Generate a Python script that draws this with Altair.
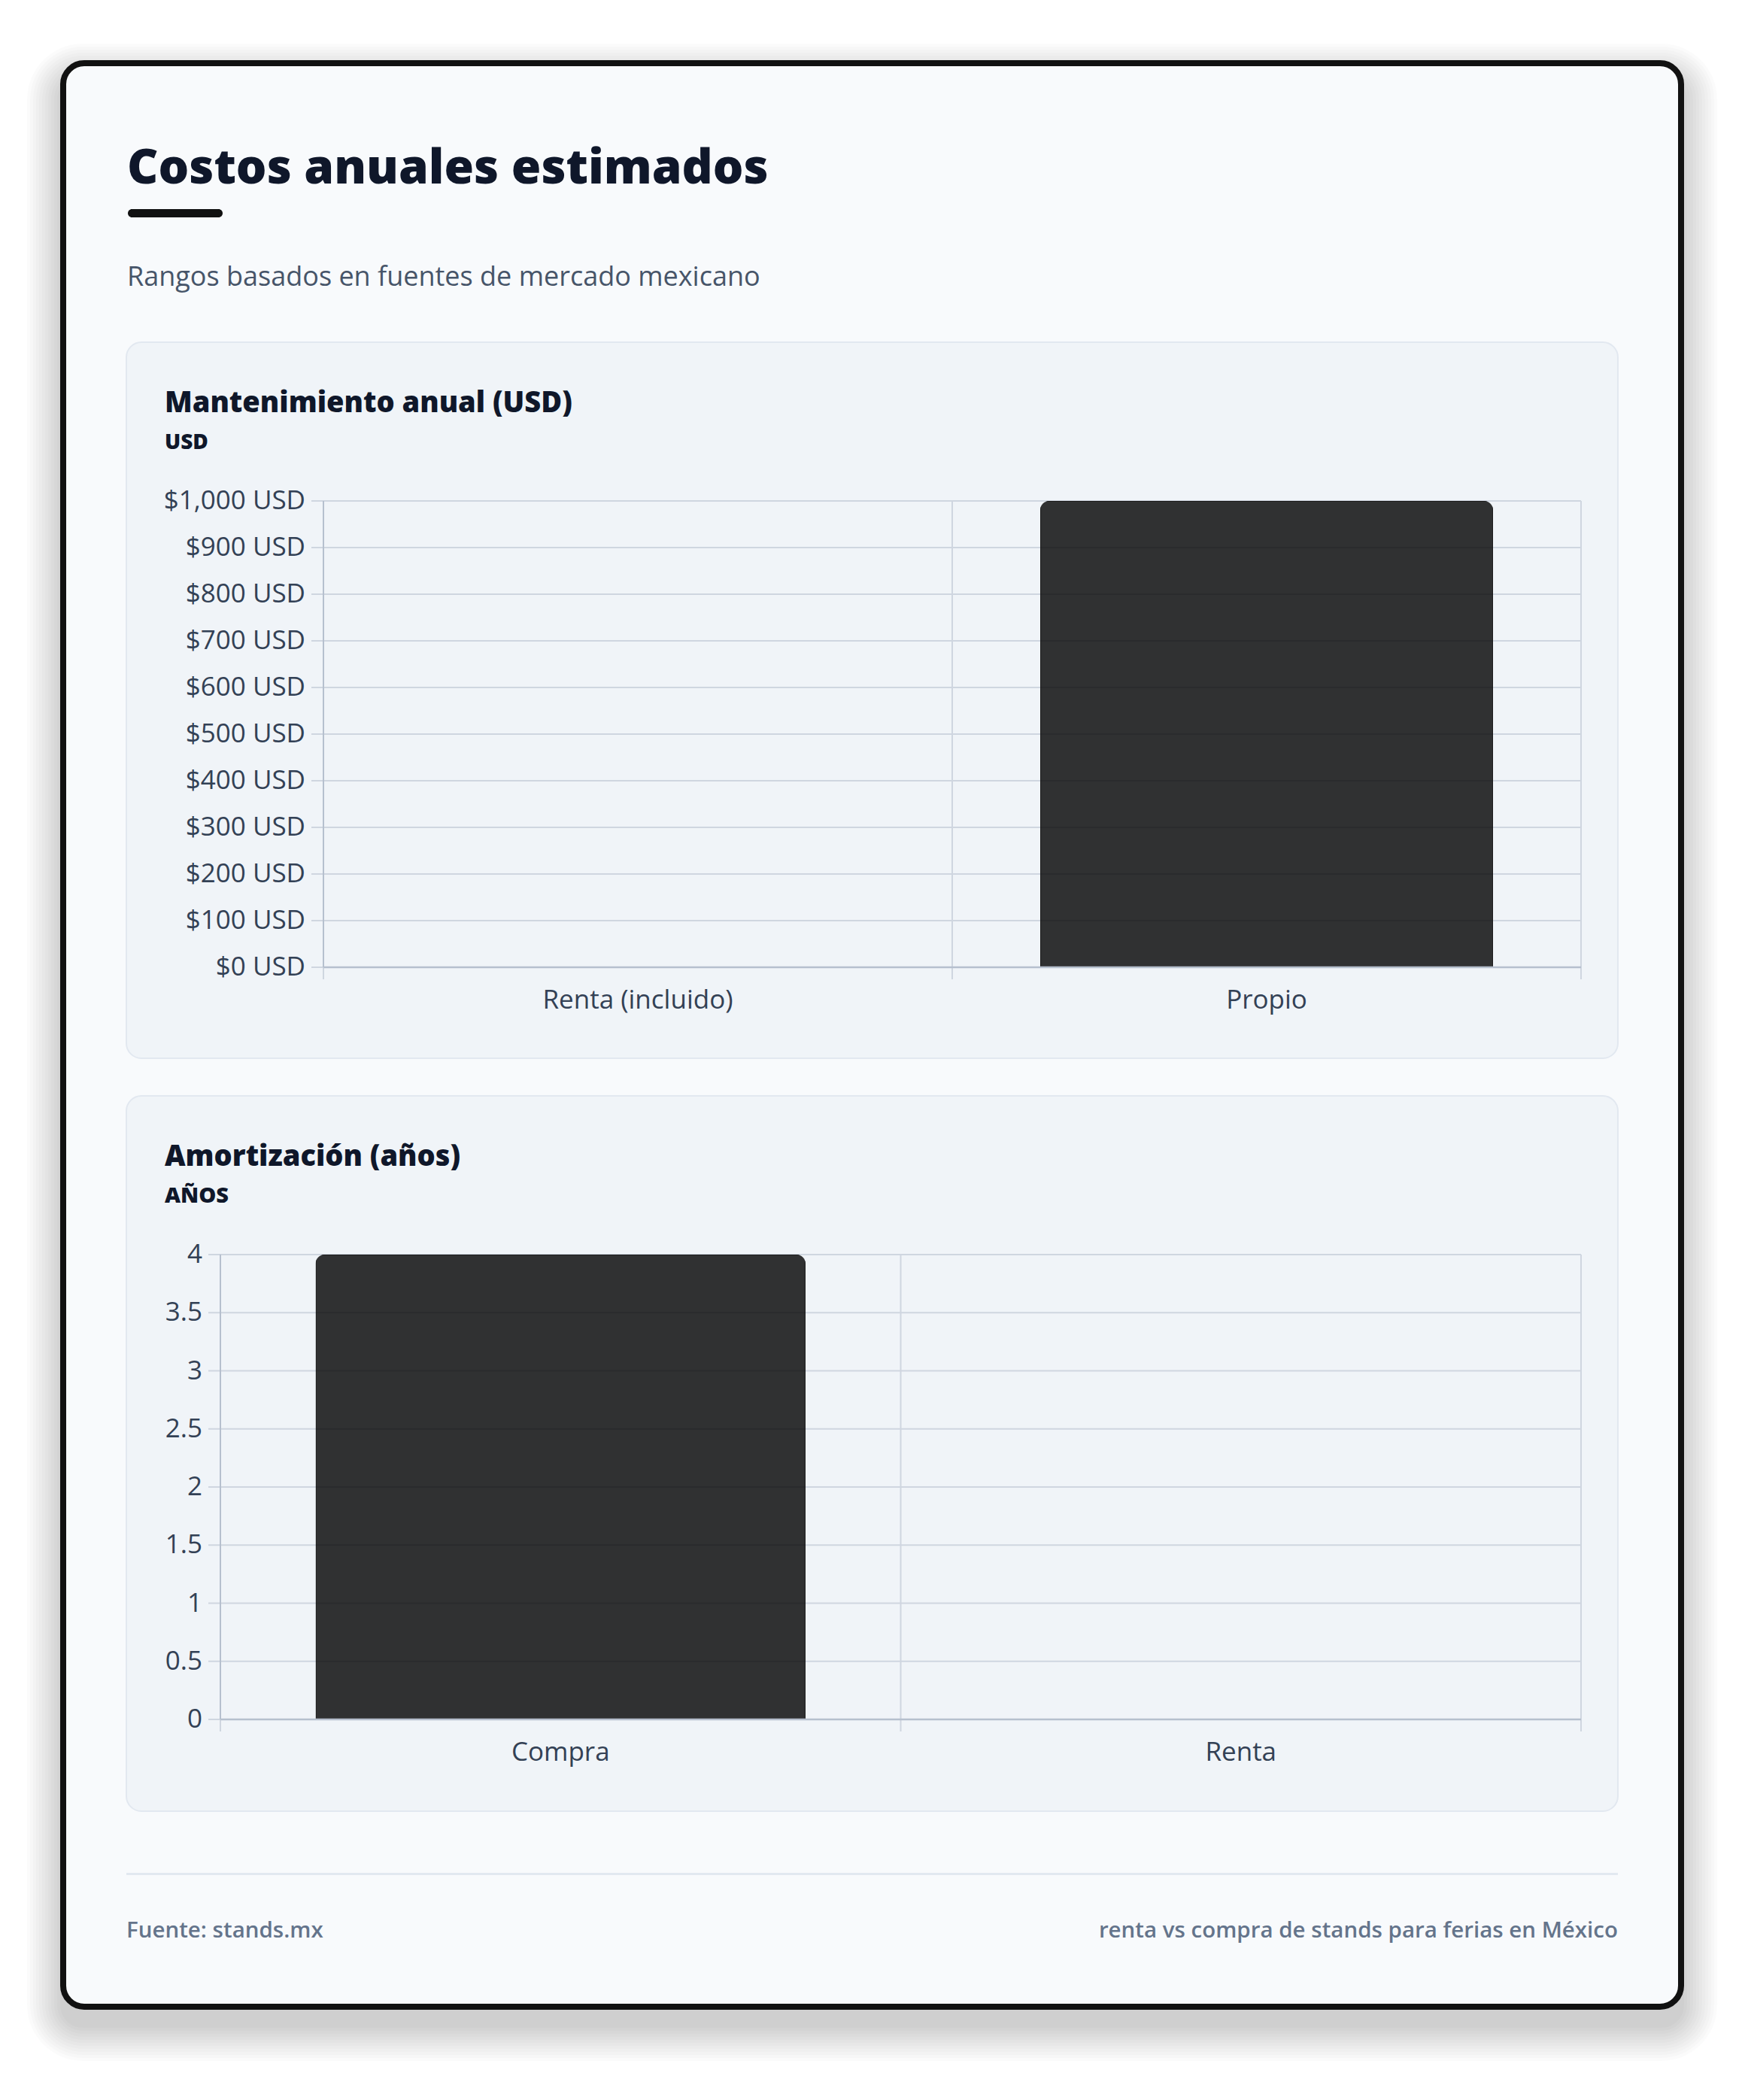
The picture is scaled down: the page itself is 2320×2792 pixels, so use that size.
import altair as alt
import pandas as pd

# ---------------- data ----------------
maint_categories = ["Renta (incluido)", "Propio"]
maint_values = [0, 1000]
maint_ticks = [0, 100, 200, 300, 400, 500, 600, 700, 800, 900, 1000]
maint_tick_labels = ["$0 USD", "$100 USD", "$200 USD", "$300 USD", "$400 USD", "$500 USD",
                     "$600 USD", "$700 USD", "$800 USD", "$900 USD", "$1,000 USD"]

amort_categories = ["Compra", "Renta"]
amort_values = [4, 0]
amort_ticks = [0, 0.5, 1, 1.5, 2, 2.5, 3, 3.5, 4]
amort_tick_labels = ["0", "0.5", "1", "1.5", "2", "2.5", "3", "3.5", "4"]

TITLE = "Costos anuales estimados"
SUBTITLE = "Rangos basados en fuentes de mercado mexicano"
P1_TITLE = "Mantenimiento anual (USD)"
P1_UNIT = "USD"
P2_TITLE = "Amortización (años)"
P2_UNIT = "AÑOS"
FOOT_L = "Fuente: stands.mx"
FOOT_R = "renta vs compra de stands para ferias en México"

# ---------------- style ----------------
W, H = 2300, 2750
FONT = "Open Sans"
DARK = "#0f172a"
GRID = "#cfd6e0"
AXIS = "#b6c0ce"
LABEL = "#334155"
PANEL_FILL = "#f0f4f8"
PANEL_STROKE = "#e2e8f0"
TICK = 16

dummy = pd.DataFrame({"d": [0]})


def box(x, x2, y, y2, **kw):
    return alt.Chart(dummy).mark_rect(**kw).encode(
        x=alt.value(x), x2=alt.value(x2), y=alt.value(y), y2=alt.value(y2)
    )


def label(x, y, text, **kw):
    return alt.Chart(dummy).mark_text(text=text, baseline="alphabetic", **kw).encode(
        x=alt.value(x), y=alt.value(y)
    )


# ---------------- decorations ----------------
decor = []
for i in range(12):
    s = 4 * i
    decor.append(
        box(72 - s, 2231 + s, 94 - s, 2688 + s, color="#000000", opacity=0.014,
            cornerRadius=30 + s)
    )
decor.append(box(76, 2227, 76, 2660, fill="#f8fafc", stroke="#111111",
                 strokeWidth=8, cornerRadius=28))
decor.append(box(162, 288, 270, 281, color="#111111", cornerRadius=5.5))
decor.append(box(160, 2143, 447, 1399, fill=PANEL_FILL, stroke=PANEL_STROKE,
                 strokeWidth=2, cornerRadius=20))
decor.append(box(160, 2143, 1449, 2400, fill=PANEL_FILL, stroke=PANEL_STROKE,
                 strokeWidth=2, cornerRadius=20))
decor.append(box(160, 2143, 2482, 2485, color="#e2e8f0"))

texts = [
    label(161, 236, TITLE, font=FONT, fontSize=64, fontWeight=800, color=DARK, align="left"),
    label(161, 372, SUBTITLE, font=FONT, fontSize=36, color="#475569", align="left"),
    label(211, 540, P1_TITLE, font=FONT, fontSize=38, fontWeight=800, color=DARK, align="left"),
    label(211, 589, P1_UNIT, font=FONT, fontSize=28, fontWeight=800, color=DARK, align="left"),
    label(211, 1542, P2_TITLE, font=FONT, fontSize=38, fontWeight=800, color=DARK, align="left"),
    label(211, 1591, P2_UNIT, font=FONT, fontSize=29, fontWeight=800, color=DARK, align="left"),
    label(160, 2568, FOOT_L, font=FONT, fontSize=29.5, fontWeight=600, color="#64748b", align="left"),
    label(2143, 2568, FOOT_R, font=FONT, fontSize=29.5, fontWeight=600, color="#64748b", align="right"),
]


# ---------------- bar panels (axes drawn through the scales) ----------------
def bar_panel(cats, vals, ticks, tick_labels, x0, x1, y0, y1):
    df_b = pd.DataFrame({"cat": cats, "v": vals})
    df_t = pd.DataFrame({"t": ticks, "lab": tick_labels})
    xs = alt.Scale(domain=cats, range=[x0, x1], paddingInner=0, paddingOuter=0)
    ys = alt.Scale(domain=[ticks[0], ticks[-1]], range=[y0, y1], nice=False, zero=True)

    def XC(**kw):
        return alt.X("cat:N", scale=xs, axis=None, **kw)

    def YT():
        return alt.Y("t:Q", scale=ys, axis=None)

    # horizontal grid lines + left ticks
    hgrid = alt.Chart(df_t).mark_rule(color=GRID, strokeWidth=2).encode(
        y=YT(), x=alt.value(x0 - TICK), x2=alt.value(x1),
    )
    # vertical grid lines at category boundaries (+ ticks below the axis)
    vgrid = alt.Chart(df_b).mark_rule(color=GRID, strokeWidth=2).encode(
        x=XC(bandPosition=0),
        y=alt.YDatum(datum=ticks[-1], scale=ys, axis=None),
        y2=alt.value(y0 + TICK),
    )
    vgrid_end = alt.Chart(df_b.tail(1)).mark_rule(color=GRID, strokeWidth=2).encode(
        x=XC(bandPosition=1),
        y=alt.YDatum(datum=ticks[-1], scale=ys, axis=None),
        y2=alt.value(y0 + TICK),
    )
    bars = alt.Chart(df_b).mark_bar(
        width=alt.RelativeBandSize(0.72), cornerRadiusTopLeft=12, cornerRadiusTopRight=12,
        color="#000000", fillOpacity=0.8, stroke="#1c1c1c",
    ).encode(
        x=XC(),
        y=alt.Y("v:Q", scale=ys, axis=None),
        strokeWidth=alt.condition("datum.v > 0", alt.value(2), alt.value(0)),
    )
    # axis lines
    ydomain = alt.Chart(dummy).mark_rule(color=AXIS, strokeWidth=2).encode(
        x=alt.value(x0),
        y=alt.YDatum(datum=ticks[0], scale=ys, axis=None),
        y2=alt.Y2Datum(datum=ticks[-1]),
    )
    xdomain = alt.Chart(dummy).mark_rule(color=AXIS, strokeWidth=2.5).encode(
        y=alt.YDatum(datum=ticks[0], scale=ys, axis=None),
        x=alt.value(x0), x2=alt.value(x1),
    )
    # tick labels
    ylabels = alt.Chart(df_t).mark_text(
        align="right", baseline="middle", font=FONT, fontSize=35, color=LABEL,
    ).encode(y=YT(), x=alt.value(x0 - TICK - 8), text="lab:N")
    xlabels = alt.Chart(df_b).mark_text(
        align="center", baseline="alphabetic", font=FONT, fontSize=35, color=LABEL,
    ).encode(x=XC(), y=alt.value(y0 + 55), text="cat:N")

    return alt.layer(hgrid, vgrid, vgrid_end, bars, ydomain, xdomain, ylabels, xlabels)


panel1 = bar_panel(maint_categories, maint_values, maint_ticks, maint_tick_labels,
                   422, 2094, 1278, 658)
panel2 = bar_panel(amort_categories, amort_values, amort_ticks, amort_tick_labels,
                   285, 2094, 2278, 1660)

chart = (
    alt.layer(*decor, panel1, panel2, *texts)
    .resolve_scale(x="independent", y="independent")
    .properties(width=W, height=H, padding=0, background="#ffffff",
                autosize=alt.AutoSizeParams(type="none"))
    .configure_view(strokeWidth=0)
)

chart.save("out.html", embed_options={"renderer": "svg", "actions": False})
